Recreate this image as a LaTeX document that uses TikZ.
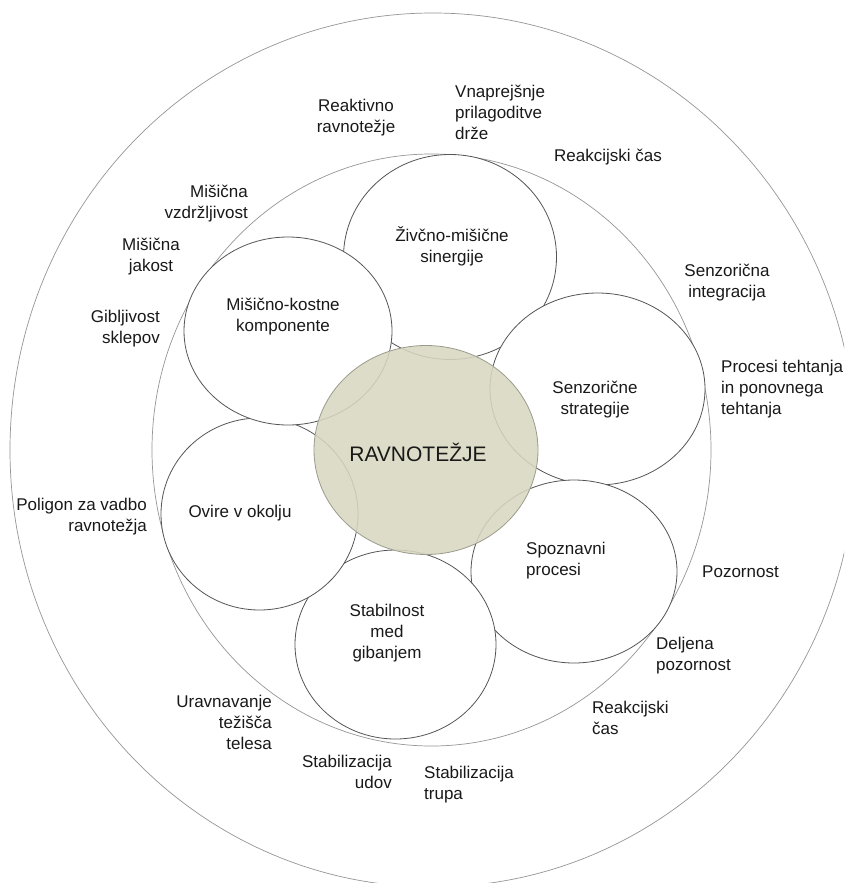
\documentclass[tikz,border=0pt]{standalone}
\usepackage{fontspec}
\setmainfont{Liberation Sans}
\usetikzlibrary{shapes.geometric}
\definecolor{petalline}{RGB}{85,85,85}
\definecolor{ringline}{RGB}{150,150,150}
\definecolor{corefill}{RGB}{221,220,200}
\definecolor{coreline}{RGB}{155,155,140}
\definecolor{ghostline}{RGB}{198,198,182}
\begin{document}
\begin{tikzpicture}[x=1pt,y=-1pt,
  petal/.style={ellipse, draw=petalline, fill=white, line width=0.8pt, inner sep=0pt},
  ring/.style={ellipse, draw=ringline, line width=0.7pt, inner sep=0pt},
  core/.style={ellipse, draw=coreline, fill=corefill, line width=0.8pt, inner sep=0pt},
  ghost/.style={draw=ghostline, line width=0.8pt},
  lbl/.style={font=\fontsize{17}{21}\selectfont, inner sep=0pt, text=black!90},
  corelbl/.style={font=\fontsize{21}{25}\selectfont, inner sep=0pt, text=black!90}]
\useasboundingbox (0,0) rectangle (844,883);
\fill[white] (0,0) rectangle (844,883);
\clip (0,0) rectangle (844,883);
% rings
\node[ring, minimum width=846pt, minimum height=874pt] (outer) at (433,450) {};
\node[ring, minimum width=559pt, minimum height=592pt] (inner) at (431.5,450) {};
% petals
\node[petal, minimum width=213pt, minimum height=205pt] (zivcno) at (450,257) {};
\node[petal, minimum width=215pt, minimum height=192pt] (senzor) at (597.5,389) {};
\node[petal, minimum width=206pt, minimum height=183pt] (spozn) at (574,571.5) {};
\node[petal, minimum width=201pt, minimum height=189pt] (stabil) at (395.5,644.5) {};
\node[petal, minimum width=197pt, minimum height=192pt] (ovire) at (259.5,514) {};
\node[petal, minimum width=208pt, minimum height=188pt] (misicno) at (288,331) {};
% core
\node[core, minimum width=224pt, minimum height=209pt] (core) at (426,450) {};
\begin{scope}
  \clip (core.center) ellipse [x radius=111.6pt, y radius=104.1pt];
  \draw[ghost] (zivcno.center) ellipse [x radius=106.5pt, y radius=102.5pt];
  \draw[ghost] (senzor.center) ellipse [x radius=107.5pt, y radius=96pt];
  \draw[ghost] (spozn.center) ellipse [x radius=103pt, y radius=91.5pt];
  \draw[ghost] (stabil.center) ellipse [x radius=100.5pt, y radius=94.5pt];
  \draw[ghost] (ovire.center) ellipse [x radius=98.5pt, y radius=96pt];
  \draw[ghost] (misicno.center) ellipse [x radius=104pt, y radius=94pt];
\end{scope}
\node[corelbl] (coretext) at (418,452) {RAVNOTEŽJE};
% labels
\node[lbl, align=center] (t1) at (356,118) {Reaktivno\\ravnotežje};
\node[lbl, align=left, anchor=west] (t2) at (455,112.5) {Vnaprejšnje\\prilagoditve\\drže};
\node[lbl, anchor=west] (t3) at (554,157) {Reakcijski čas};
\node[lbl, align=right, anchor=east] (t4) at (248,203.5) {Mišična\\vzdržljivost};
\node[lbl, align=center] (t5) at (452,246.5) {Živčno-mišične\\sinergije};
\node[lbl, align=center] (t6) at (151,257) {Mišična\\jakost};
\node[lbl, align=center] (t7) at (727,283) {Senzorična\\integracija};
\node[lbl, align=center] (t8) at (283,316.5) {Mišično-kostne\\komponente};
\node[lbl, align=right, anchor=east] (t9) at (160,329) {Gibljivost\\sklepov};
\node[lbl, align=left, anchor=west] (t10) at (721,389.5) {Procesi tehtanja\\in ponovnega\\tehtanja};
\node[lbl, align=center] (t11) at (595,399.5) {Senzorične\\strategije};
\node[lbl, align=right, anchor=east] (t13) at (147,516.5) {Poligon za vadbo\\ravnotežja};
\node[lbl] (t14) at (240,513) {Ovire v okolju};
\node[lbl, align=left, anchor=west] (t15) at (526,560.5) {Spoznavni\\procesi};
\node[lbl, anchor=west] (t16) at (702,572) {Pozornost};
\node[lbl, align=center] (t17) at (387,633) {Stabilnost\\med\\gibanjem};
\node[lbl, align=left, anchor=west] (t18) at (656,655.5) {Deljena\\pozornost};
\node[lbl, align=right, anchor=east] (t19) at (272,722.5) {Uravnavanje\\težišča\\telesa};
\node[lbl, align=left, anchor=west] (t20) at (592,717.5) {Reakcijski\\čas};
\node[lbl, align=right, anchor=east] (t21) at (392,771.5) {Stabilizacija\\udov};
\node[lbl, align=left, anchor=west] (t22) at (424,784.5) {Stabilizacija\\trupa};
\end{tikzpicture}
\end{document}
